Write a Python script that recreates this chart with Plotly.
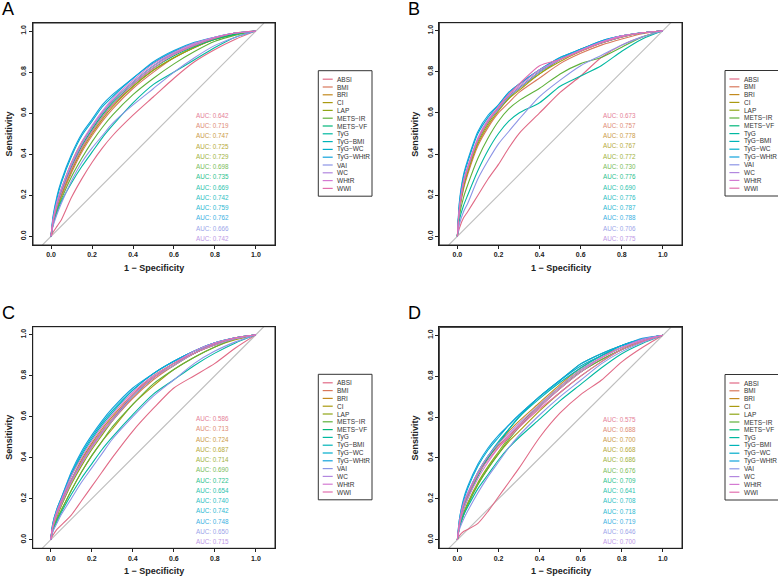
import plotly.graph_objects as go

# ROC curves (1 - specificity grid, sensitivity per marker)
fpr = [0, .01, .03, .05, .1, .15, .2, .25, .3, .4, .5, .6, .7, .8, .9, 1]

markers = ["ABSI", "BMI", "BRI", "CI", "LAP", "METS-IR", "METS-VF", "TyG",
           "TyG-BMI", "TyG-WC", "TyG-WHtR", "VAI", "WC", "WHtR", "WWI"]

colors = ["#E16A86", "#D9785C", "#C38A1E", "#AA9A10", "#8FA616", "#5FB13A",
          "#00B67A", "#00B8A0", "#00B4B8", "#00ADCB", "#12A3DC", "#8C95E6",
          "#B287DF", "#D47AD2", "#E26FAE"]

auc_A = [0.642, 0.719, 0.747, 0.725, 0.729, 0.698, 0.735, 0.669, 0.742, 0.759, 0.762, 0.666, 0.742]
auc_B = [0.673, 0.757, 0.778, 0.767, 0.772, 0.730, 0.776, 0.690, 0.776, 0.787, 0.788, 0.706, 0.775]
auc_C = [0.586, 0.713, 0.724, 0.687, 0.714, 0.690, 0.722, 0.654, 0.740, 0.742, 0.748, 0.650, 0.715]
auc_D = [0.575, 0.688, 0.700, 0.668, 0.686, 0.676, 0.709, 0.641, 0.708, 0.718, 0.719, 0.646, 0.700]

sens_A = {
    "ABSI":     [0, .02, .05, .08, .19, .28, .36, .43, .49, .59, .68, .77, .85, .91, .96, 1],
    "BMI":      [0, .06, .13, .19, .31, .41, .49, .56, .62, .72, .80, .87, .92, .96, .985, 1],
    "BRI":      [0, .08, .17, .23, .36, .46, .53, .60, .66, .75, .83, .89, .93, .965, .99, 1],
    "CI":       [0, .06, .14, .20, .32, .42, .50, .57, .63, .73, .81, .87, .92, .96, .985, 1],
    "LAP":      [0, .07, .15, .21, .33, .43, .51, .58, .64, .73, .81, .87, .92, .96, .985, 1],
    "METS-IR":  [0, .06, .13, .18, .29, .38, .46, .53, .59, .69, .77, .84, .90, .95, .98, 1],
    "METS-VF":  [0, .07, .15, .21, .34, .44, .52, .59, .65, .74, .82, .88, .925, .96, .985, 1],
    "TyG":      [0, .06, .12, .17, .26, .34, .41, .48, .54, .65, .74, .80, .86, .92, .97, 1],
    "TyG-BMI":  [0, .08, .16, .22, .35, .45, .53, .60, .66, .75, .83, .89, .93, .965, .99, 1],
    "TyG-WC":   [0, .09, .19, .26, .39, .49, .56, .63, .68, .77, .845, .90, .94, .97, .99, 1],
    "TyG-WHtR": [0, .10, .20, .27, .40, .50, .57, .64, .69, .77, .85, .905, .945, .97, .99, 1],
    "VAI":      [0, .05, .11, .16, .27, .36, .43, .49, .55, .64, .72, .80, .87, .93, .97, 1],
    "WC":       [0, .08, .17, .23, .35, .45, .53, .60, .66, .75, .83, .89, .935, .97, .99, 1],
    "WHtR":     [0, .08, .17, .23, .36, .46, .54, .61, .67, .76, .84, .895, .94, .97, .99, 1],
    "WWI":      [0, .07, .15, .21, .33, .43, .51, .58, .64, .74, .82, .885, .93, .965, .99, 1],
}

sens_B = {
    "ABSI":     [0, .04, .09, .12, .20, .28, .35, .43, .50, .60, .70, .78, .87, .93, .97, 1],
    "BMI":      [0, .12, .23, .30, .44, .53, .60, .65, .70, .77, .84, .89, .93, .96, .985, 1],
    "BRI":      [0, .14, .26, .33, .47, .56, .62, .68, .72, .80, .86, .91, .945, .975, .99, 1],
    "CI":       [0, .13, .24, .31, .45, .54, .61, .67, .71, .79, .85, .90, .94, .97, .99, 1],
    "LAP":      [0, .13, .25, .32, .46, .55, .62, .67, .72, .79, .86, .90, .94, .97, .99, 1],
    "METS-IR":  [0, .10, .19, .25, .38, .48, .56, .62, .66, .72, .79, .84, .87, .92, .97, 1],
    "METS-VF":  [0, .14, .26, .33, .47, .56, .62, .68, .72, .80, .86, .905, .945, .975, .99, 1],
    "TyG":      [0, .08, .15, .20, .32, .42, .50, .56, .60, .65, .73, .78, .83, .90, .96, 1],
    "TyG-BMI":  [0, .14, .26, .33, .47, .56, .62, .68, .72, .80, .86, .91, .94, .97, .99, 1],
    "TyG-WC":   [0, .16, .29, .36, .50, .58, .64, .70, .74, .81, .87, .91, .95, .975, .99, 1],
    "TyG-WHtR": [0, .17, .30, .37, .51, .59, .64, .70, .74, .81, .87, .91, .95, .975, .99, 1],
    "VAI":      [0, .06, .12, .16, .28, .37, .45, .51, .57, .68, .76, .83, .88, .93, .97, 1],
    "WC":       [0, .13, .26, .33, .47, .56, .62, .68, .72, .80, .86, .905, .945, .975, .99, 1],
    "WHtR":     [0, .14, .27, .34, .48, .57, .63, .69, .73, .81, .86, .905, .945, .975, .99, 1],
    "WWI":      [0, .13, .26, .33, .47, .56, .63, .69, .74, .83, .86, .90, .94, .97, .99, 1],
}

sens_C = {
    "ABSI":     [0, .02, .05, .07, .12, .19, .26, .33, .40, .53, .64, .74, .80, .86, .935, 1],
    "BMI":      [0, .06, .12, .17, .28, .37, .45, .52, .58, .69, .78, .85, .91, .95, .98, 1],
    "BRI":      [0, .06, .13, .18, .29, .39, .47, .54, .60, .71, .80, .86, .91, .955, .985, 1],
    "CI":       [0, .05, .10, .14, .24, .33, .41, .48, .54, .66, .75, .83, .89, .94, .975, 1],
    "LAP":      [0, .05, .11, .16, .27, .36, .44, .51, .58, .70, .79, .85, .91, .95, .98, 1],
    "METS-IR":  [0, .05, .10, .14, .24, .33, .41, .48, .55, .66, .76, .83, .89, .94, .98, 1],
    "METS-VF":  [0, .07, .13, .18, .29, .38, .46, .53, .59, .70, .79, .86, .91, .955, .985, 1],
    "TyG":      [0, .04, .09, .13, .22, .30, .37, .44, .50, .61, .71, .78, .85, .91, .96, 1],
    "TyG-BMI":  [0, .07, .14, .19, .31, .41, .49, .56, .62, .73, .81, .87, .92, .96, .985, 1],
    "TyG-WC":   [0, .08, .15, .20, .32, .42, .50, .57, .63, .73, .81, .87, .92, .96, .985, 1],
    "TyG-WHtR": [0, .08, .15, .20, .33, .43, .51, .58, .64, .74, .81, .87, .92, .96, .985, 1],
    "VAI":      [0, .04, .08, .12, .20, .28, .35, .42, .49, .60, .70, .78, .86, .92, .965, 1],
    "WC":       [0, .06, .12, .17, .28, .37, .45, .52, .58, .70, .79, .85, .91, .95, .98, 1],
    "WHtR":     [0, .07, .14, .19, .31, .40, .48, .55, .61, .72, .80, .86, .92, .96, .985, 1],
    "WWI":      [0, .06, .13, .18, .29, .38, .46, .53, .59, .71, .79, .86, .91, .955, .985, 1],
}

sens_D = {
    "ABSI":     [0, .02, .04, .05, .08, .14, .21, .28, .35, .50, .62, .71, .78, .87, .94, 1],
    "BMI":      [0, .07, .15, .21, .32, .40, .46, .51, .56, .65, .74, .82, .88, .93, .975, 1],
    "BRI":      [0, .08, .16, .22, .33, .41, .47, .53, .58, .67, .76, .84, .90, .94, .98, 1],
    "CI":       [0, .06, .12, .17, .27, .35, .42, .48, .53, .63, .72, .80, .87, .93, .97, 1],
    "LAP":      [0, .06, .13, .18, .28, .36, .43, .50, .56, .66, .75, .83, .89, .94, .975, 1],
    "METS-IR":  [0, .06, .12, .17, .27, .35, .42, .49, .55, .65, .74, .82, .88, .93, .97, 1],
    "METS-VF":  [0, .07, .15, .20, .31, .40, .47, .54, .60, .70, .78, .86, .91, .95, .98, 1],
    "TyG":      [0, .06, .12, .16, .25, .32, .39, .45, .50, .59, .68, .76, .84, .91, .96, 1],
    "TyG-BMI":  [0, .08, .16, .22, .33, .41, .48, .54, .60, .69, .77, .84, .90, .95, .98, 1],
    "TyG-WC":   [0, .10, .19, .25, .36, .44, .50, .56, .61, .70, .78, .85, .90, .95, .98, 1],
    "TyG-WHtR": [0, .10, .20, .26, .37, .45, .51, .56, .61, .70, .78, .86, .91, .95, .985, 1],
    "VAI":      [0, .05, .10, .14, .23, .31, .38, .45, .51, .61, .70, .78, .86, .92, .965, 1],
    "WC":       [0, .09, .18, .23, .33, .41, .47, .52, .57, .66, .75, .83, .89, .94, .98, 1],
    "WHtR":     [0, .07, .15, .20, .30, .38, .45, .51, .56, .65, .74, .82, .89, .94, .975, 1],
    "WWI":      [0, .08, .17, .22, .32, .39, .45, .50, .55, .64, .72, .80, .87, .93, .97, 1],
}

W, H = 778, 580
FONT = "Liberation Sans"
INK = "#222222"


def px(x):
    return x / W


def py(y):
    return 1 - y / H


# letter, curves, aucs, plot box (left, right, top, bottom) in px, legend box left/top
panels = [
    ("A", sens_A, auc_A, (33, 275, 23, 245), (318.3, 70.7)),
    ("B", sens_B, auc_B, (439.3, 682, 22.7, 245), (725, 70.5)),
    ("C", sens_C, auc_C, (32.7, 275, 326.7, 548.3), (318.3, 374.3)),
    ("D", sens_D, auc_D, (439.3, 682, 327.3, 548.3), (725, 374.5)),
]

fig = go.Figure()
annotations = []
shapes = []
axis_common = dict(
    showgrid=False, zeroline=False, showline=True, mirror=True,
    linecolor=INK, linewidth=1, ticks="outside", ticklen=3, tickcolor=INK,
    tickvals=[0, 0.2, 0.4, 0.6, 0.8, 1.0],
    ticktext=["0.0", "0.2", "0.4", "0.6", "0.8", "1.0"],
    tickfont=dict(family=FONT, size=7, color=INK, weight="bold"),
    fixedrange=True,
)
layout_axes = {}

for k, (letter, sens, aucs, box, leg) in enumerate(panels):
    n = "" if k == 0 else str(k + 1)
    xa, ya = "x" + n, "y" + n
    left, right, top, bottom = box

    # chance line
    fig.add_trace(go.Scatter(x=[-0.042, 1.039], y=[-0.042, 1.039], mode="lines",
                             line=dict(color="#BEBEBE", width=1.1),
                             xaxis=xa, yaxis=ya, showlegend=False, hoverinfo="skip"))
    for m, c in zip(markers, colors):
        fig.add_trace(go.Scatter(x=fpr, y=sens[m], mode="lines", name=m,
                                 line=dict(color=c, width=1.1, shape="spline", smoothing=0.7),
                                 xaxis=xa, yaxis=ya, showlegend=False))

    for i, v in enumerate(aucs):
        annotations.append(dict(x=0.70, y=0.59 - 0.05 * i, xref=xa, yref=ya,
                                text=f"AUC: {v:.3f}", showarrow=False,
                                xanchor="left", yanchor="middle",
                                font=dict(family=FONT, size=6.3, color=colors[i]), opacity=0.85))

    layout_axes["xaxis" + n] = dict(axis_common, range=[-0.088, 1.093],
                                    domain=[px(left), px(right)], anchor=ya)
    layout_axes["yaxis" + n] = dict(axis_common, range=[-0.042, 1.039], tickangle=-90,
                                    domain=[py(bottom), py(top)], anchor=xa)

    # plot frame
    shapes.append(dict(type="rect", xref=xa + " domain", yref=ya + " domain",
                       x0=0, x1=1, y0=0, y1=1, line=dict(color=INK, width=1)))

    # panel letter and axis titles
    annotations.append(dict(x=px(left - 33), y=py(top - 14), xref="paper", yref="paper",
                            text=letter, showarrow=False, xanchor="left", yanchor="middle",
                            font=dict(family=FONT, size=18, color="#000")))
    annotations.append(dict(x=px((left + right) / 2), y=py(bottom + 23), xref="paper", yref="paper",
                            text="1 − Specificity", showarrow=False,
                            xanchor="center", yanchor="middle",
                            font=dict(family=FONT, size=9, color=INK, weight="bold")))
    annotations.append(dict(x=px(left - 24.5), y=py((top + bottom) / 2), xref="paper", yref="paper",
                            text="Sensitivity", showarrow=False, textangle=-90,
                            xanchor="center", yanchor="middle",
                            font=dict(family=FONT, size=9, color=INK, weight="bold")))

    # hand-drawn legend box (R style, tight rows)
    lx, ly = leg
    shapes.append(dict(type="rect", xref="paper", yref="paper",
                       x0=px(lx), x1=px(lx + 53.7), y0=py(ly + 125.5), y1=py(ly),
                       line=dict(color="#333333", width=1)))
    for i, (m, c) in enumerate(zip(markers, colors)):
        yy = ly + 8.5 + 7.8 * i
        shapes.append(dict(type="line", xref="paper", yref="paper",
                           x0=px(lx + 4.4), x1=px(lx + 14.4), y0=py(yy), y1=py(yy),
                           line=dict(color=c, width=1.2)))
        annotations.append(dict(x=px(lx + 16.8), y=py(yy), xref="paper", yref="paper",
                                text=m.replace("-", "−"), showarrow=False,
                                xanchor="left", yanchor="middle",
                                font=dict(family=FONT, size=6.5, color="#333333")))

fig.update_layout(
    width=W, height=H, autosize=False,
    margin=dict(l=0, r=0, t=0, b=0),
    paper_bgcolor="white", plot_bgcolor="white",
    annotations=annotations, shapes=shapes,
    **layout_axes,
)

fig.write_html("out.html", config={"displayModeBar": False},
               post_script="document.body.style.margin='0';document.body.style.overflow='hidden';")
